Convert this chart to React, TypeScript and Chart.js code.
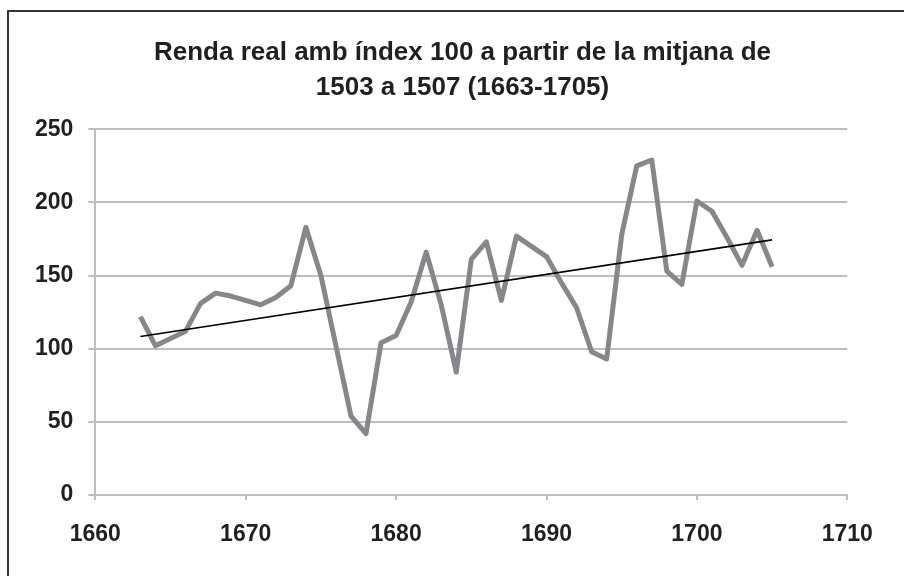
import React, { useEffect, useRef } from 'react';
import { Chart, registerables } from 'chart.js';

Chart.register(...registerables);

const titleLines = ['Renda real amb índex 100 a partir de la mitjana de', '1503 a 1507 (1663-1705)'];

const years = [
  1663, 1664, 1665, 1666, 1667, 1668, 1669, 1670, 1671, 1672, 1673, 1674, 1675, 1676,
  1677, 1678, 1679, 1680, 1681, 1682, 1683, 1684, 1685, 1686, 1687, 1688, 1689, 1690,
  1691, 1692, 1693, 1694, 1695, 1696, 1697, 1698, 1699, 1700, 1701, 1702, 1703, 1704, 1705,
];
const values = [
  122, 102, 107, 112, 131, 138, 136, 133, 130, 135, 143, 183, 150, 102,
  54, 42, 104, 109, 132, 166, 130, 84, 161, 173, 133, 177, 170, 163,
  145, 128, 98, 93, 178, 225, 229, 153, 144, 201, 194, 176, 157, 181, 156,
];

const trendYears = [1663, 1705];
const trendValues = [108.3, 174.4];

const xMin = 1660;
const xMax = 1710;
const xStep = 10;
const yMin = 0;
const yMax = 250;
const yStep = 50;

const FONT = "'Liberation Sans', Arial, sans-serif";
const TEXT = '#231f20';
const GRID = '#bcbec0';
const LINE = '#86878a';

const titlePlugin = {
  id: 'customTitle',
  afterDraw(chart: any) {
    const ctx = chart.ctx;
    ctx.save();
    ctx.fillStyle = TEXT;
    ctx.font = `bold 26px ${FONT}`;
    ctx.textAlign = 'center';
    ctx.textBaseline = 'alphabetic';
    titleLines.forEach((line, i) => {
      ctx.fillText(line, 462.5, 60 + i * 35);
    });
    ctx.restore();
  },
};

export default function App() {
  const ref = useRef<HTMLCanvasElement | null>(null);

  useEffect(() => {
    if (!ref.current) return;
    const chart = new Chart(ref.current, {
      type: 'line',
      data: {
        datasets: [
          {
            label: 'Tendència',
            data: trendYears.map((x, i) => ({ x, y: trendValues[i] })),
            borderColor: '#000000',
            borderWidth: 1.6,
            pointRadius: 0,
            tension: 0,
            order: 0,
          },
          {
            label: 'Renda real',
            data: years.map((x, i) => ({ x, y: values[i] })),
            borderColor: LINE,
            borderWidth: 5,
            pointRadius: 0,
            tension: 0,
            borderJoinStyle: 'round',
            order: 1,
          },
        ],
      },
      plugins: [titlePlugin],
      options: {
        responsive: false,
        animation: false,
        layout: { padding: { left: 0, right: 56.7, top: 129.3, bottom: 0 } },
        plugins: {
          legend: { display: false },
          tooltip: { enabled: false },
          title: { display: false },
        },
        scales: {
          x: {
            type: 'linear',
            min: xMin,
            max: xMax,
            afterFit: (s: any) => { s.height = 81; },
            ticks: {
              stepSize: xStep,
              color: TEXT,
              padding: 21,
              font: { family: FONT, size: 23, weight: 'bold' },
              callback: (v: any) => String(v),
              maxRotation: 0,
            },
            grid: { drawOnChartArea: false, drawTicks: true, tickLength: 5, color: GRID, lineWidth: 2 },
            border: { display: true, color: GRID, width: 2 },
          },
          y: {
            min: yMin,
            max: yMax,
            afterFit: (s: any) => { s.width = 95.3; },
            ticks: {
              stepSize: yStep,
              color: TEXT,
              padding: 15,
              font: { family: FONT, size: 23, weight: 'bold' },
            },
            grid: { color: GRID, lineWidth: 2, tickLength: 7 },
            border: { display: true, color: GRID, width: 2 },
          },
        },
      },
    });
    return () => chart.destroy();
  }, []);

  return (
    <div style={{ position: 'absolute', left: 0, top: 0, width: 904, height: 576, overflow: 'hidden', background: '#fff' }}>
      <canvas ref={ref} width={904} height={576} style={{ position: 'absolute', left: 0, top: 0, width: 904, height: 576 }} />
      <div
        style={{
          position: 'absolute',
          left: 7,
          top: 10,
          width: 897,
          height: 566,
          boxSizing: 'border-box',
          borderLeft: '2px solid #333333',
          borderTop: '2px solid #333333',
          pointerEvents: 'none',
        }}
      />
    </div>
  );
}
